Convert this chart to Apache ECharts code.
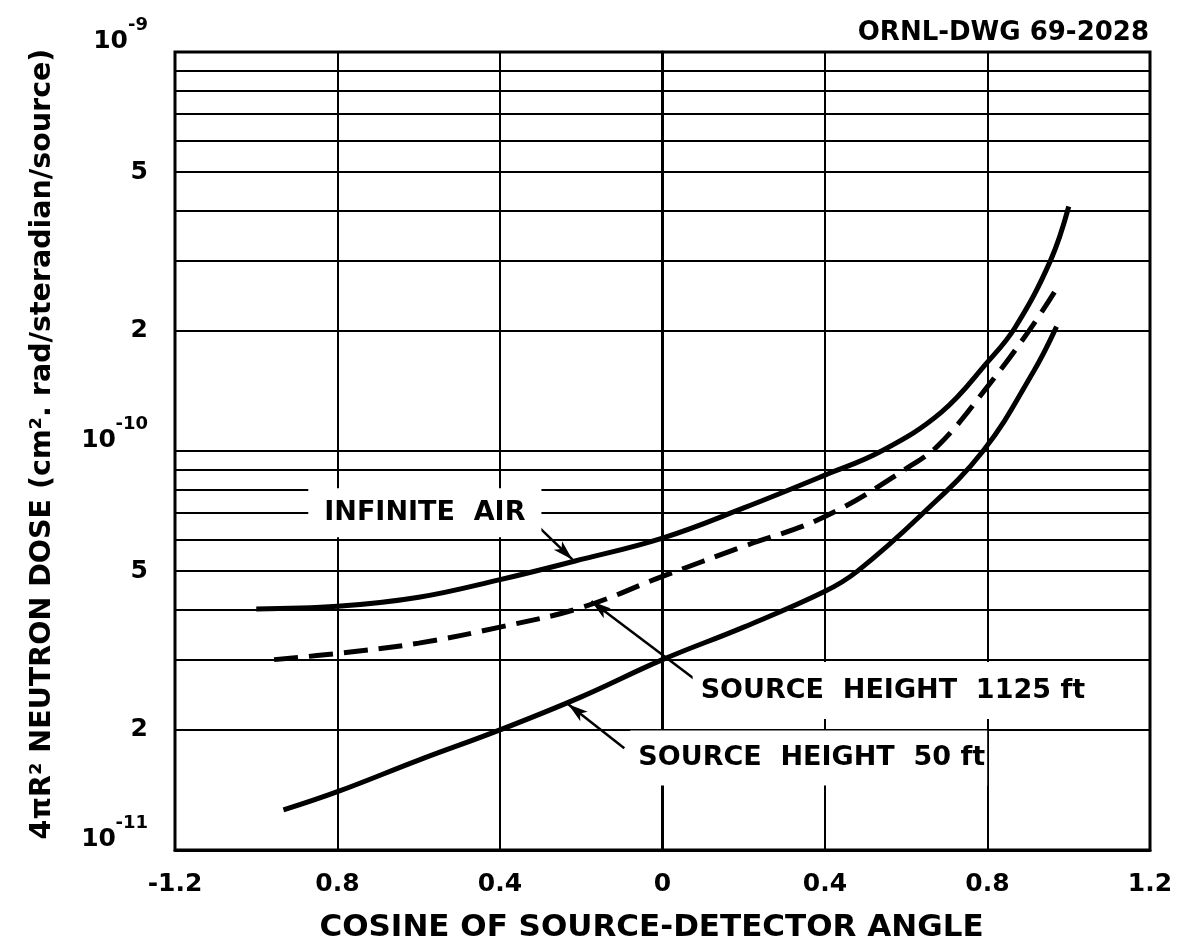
<!DOCTYPE html>
<html>
<head>
<meta charset="utf-8">
<title>Neutron dose vs cosine of source-detector angle</title>
<script src="https://cdn.jsdelivr.net/npm/echarts@6/dist/echarts.min.js"></script>
<style>
  html, body { margin: 0; padding: 0; background: #ffffff; }
  #chart { width: 1183px; height: 951px; }
</style>
</head>
<body>
<div id="chart"></div>
<script>
// Curve samples: cosine of source-detector angle vs 4πR² neutron dose
const infiniteAirX = [-1.0, -0.8, -0.6, -0.4, -0.215, 0.0, 0.2, 0.4, 0.539, 0.686, 0.8, 0.868, 0.955, 1.0];
const infiniteAirY = [4.02e-11, 4.08e-11, 4.3e-11, 4.76e-11, 5.3e-11, 6.05e-11, 7.2e-11, 8.7e-11, 1.0e-10, 1.25e-10, 1.67e-10, 2.04e-10, 3.0e-10, 4.1e-10];

const height1125X = [-0.956, -0.8, -0.6, -0.4, -0.2, 0.0, 0.2, 0.4, 0.612, 0.686, 0.8, 0.902, 0.972];
const height1125Y = [3.0e-11, 3.11e-11, 3.3e-11, 3.62e-11, 4.05e-11, 4.85e-11, 5.77e-11, 6.85e-11, 9.2e-11, 1.05e-10, 1.45e-10, 2.0e-10, 2.57e-10];

const height50X = [-0.933, -0.8, -0.6, -0.4, -0.2, 0.0, 0.2, 0.4, 0.48, 0.636, 0.789, 0.913, 0.97];
const height50Y = [1.26e-11, 1.4e-11, 1.68e-11, 2.0e-11, 2.42e-11, 3.0e-11, 3.62e-11, 4.45e-11, 5.0e-11, 6.9e-11, 1.0e-10, 1.58e-10, 2.05e-10];

// Axis ticks and labels
const xTickValues = [-1.2, -0.8, -0.4, 0, 0.4, 0.8, 1.2];
const xTickLabels = ['-1.2', '0.8', '0.4', '0', '0.4', '0.8', '1.2'];
const yTickValues = [1e-11, 2e-11, 5e-11, 1e-10, 2e-10, 5e-10, 1e-9];
const yTickLabels = ['10^-11', '2', '5', '10^-10', '2', '5', '10^-9'];
const yGridValues = [2e-11, 3e-11, 4e-11, 5e-11, 6e-11, 7e-11, 8e-11, 9e-11,
                     2e-10, 3e-10, 4e-10, 5e-10, 6e-10, 7e-10, 8e-10, 9e-10];

const X_MIN = -1.2, X_MAX = 1.2;
const FONT = '"DejaVu Sans", Verdana, sans-serif';

function pairs(xs, ys) { return xs.map((x, i) => [x, ys[i]]); }

function xLabel(v) {
  for (let i = 0; i < xTickValues.length; i++) {
    if (Math.abs(v - xTickValues[i]) < 1e-6) return xTickLabels[i];
  }
  return '';
}

// Powers of ten are written as a raised exponent over the "10" base,
// both lifted slightly above their tick.
function yLabel(v) {
  for (let i = 0; i < yTickValues.length; i++) {
    if (Math.abs(Math.log10(v) - Math.log10(yTickValues[i])) < 1e-6) {
      const t = yTickLabels[i];
      if (t.indexOf('^') >= 0) {
        const parts = t.split('^');
        const gap = parts[1].length > 2 ? 'g3' : 'g2';
        return '{s|' + parts[1] + '}\n{b|' + parts[0] + '}{' + gap + '| }\n{e| }';
      }
      return '{n|' + t + '}';
    }
  }
  return '';
}

const leaderStyle = { color: '#000', width: 2.5, type: 'solid' };
const noteText = {
  show: true,
  position: 'inside',
  color: '#000',
  fontFamily: FONT,
  fontWeight: 'bold',
  fontSize: 27,
  backgroundColor: '#ffffff'
};

const chart = echarts.init(document.getElementById('chart'), null, { renderer: 'canvas' });

chart.setOption({
  animation: false,
  backgroundColor: '#ffffff',
  title: {
    text: 'ORNL-DWG 69-2028',
    right: 29,
    top: 15,
    textStyle: { fontFamily: FONT, fontWeight: 'bold', fontSize: 26, color: '#000' }
  },
  grid: {
    left: 175, right: 33, top: 52, bottom: 101,
    show: true, borderColor: '#000', borderWidth: 3, backgroundColor: '#ffffff'
  },
  xAxis: {
    type: 'value',
    min: X_MIN, max: X_MAX, interval: 0.4,
    name: 'COSINE OF SOURCE-DETECTOR ANGLE',
    nameLocation: 'middle',
    nameGap: 62,
    nameTextStyle: { fontFamily: FONT, fontSize: 31, fontWeight: 'bold', color: '#000', padding: [0, 22, 0, 0] },
    axisLine: { show: true, lineStyle: { color: '#000', width: 3 } },
    axisTick: { show: false },
    axisLabel: {
      formatter: xLabel, margin: 22,
      fontFamily: FONT, fontSize: 25, fontWeight: 'bold', color: '#000'
    },
    splitLine: { show: true, lineStyle: { color: '#000', width: 2 } }
  },
  yAxis: {
    type: 'log',
    logBase: 10,
    min: 1e-11, max: 1e-9,
    name: '4πR² NEUTRON DOSE (cm². rad/steradian/source)',
    nameLocation: 'middle',
    nameGap: 118,
    nameTextStyle: { fontFamily: FONT, fontSize: 28.5, fontWeight: 'bold', color: '#000', padding: [0, 0, 0, 14] },
    axisLine: { show: true, lineStyle: { color: '#000', width: 3 } },
    axisTick: { show: false },
    axisLabel: {
      customValues: yTickValues,
      formatter: yLabel,
      margin: 27,
      color: '#000',
      rich: {
        n: { fontFamily: FONT, fontSize: 25, fontWeight: 'bold', color: '#000' },
        s: { fontFamily: FONT, fontSize: 18, fontWeight: 'bold', color: '#000', lineHeight: 8 },
        b: { fontFamily: FONT, fontSize: 25, fontWeight: 'bold', color: '#000', lineHeight: 24 },
        g2: { fontSize: 10, width: 20, lineHeight: 24 },
        g3: { fontSize: 10, width: 32, lineHeight: 24 },
        e: { fontSize: 10, lineHeight: 30 }
      }
    },
    splitLine: { show: true, lineStyle: { color: '#000', width: 2 } }
  },
  series: [
    {
      // intermediate logarithmic grid lines (2..9 of each decade)
      type: 'line',
      data: [[0, 1e-10]],
      symbol: 'none',
      lineStyle: { width: 0 },
      z: 1,
      silent: true,
      markLine: {
        silent: true,
        symbol: ['none', 'none'],
        label: { show: false },
        lineStyle: { color: '#000', width: 2, type: 'solid', opacity: 1 },
        data: yGridValues.map(v => [{ coord: [X_MIN, v] }, { coord: [X_MAX, v] }])
      }
    },
    {
      name: 'INFINITE AIR',
      type: 'line',
      data: pairs(infiniteAirX, infiniteAirY),
      smooth: 0.4,
      symbol: 'none',
      z: 3,
      lineStyle: { color: '#000', width: 5 },
      markLine: {
        silent: true,
        symbol: ['none', 'arrow'],
        symbolSize: [9, 20],
        label: { show: false },
        lineStyle: leaderStyle,
        data: [[{ coord: [-0.328, 6.8e-11] }, { coord: [-0.222, 5.35e-11] }]]
      },
      markPoint: {
        silent: true,
        symbol: 'circle',
        symbolSize: 0,
        label: Object.assign({}, noteText, { padding: [4, 16, 18, 16] }),
        data: [{ coord: [-0.585, 7.0e-11], value: 'INFINITE  AIR' }]
      }
    },
    {
      name: 'SOURCE HEIGHT 1125 ft',
      type: 'line',
      data: pairs(height1125X, height1125Y),
      smooth: 0.4,
      symbol: 'none',
      z: 3,
      lineStyle: { color: '#000', width: 5, type: [24, 11] },
      markLine: {
        silent: true,
        symbol: ['none', 'arrow'],
        symbolSize: [9, 20],
        label: { show: false },
        lineStyle: leaderStyle,
        data: [[{ coord: [0.077, 2.69e-11] }, { coord: [-0.175, 4.2e-11] }]]
      },
      markPoint: {
        silent: true,
        symbol: 'circle',
        symbolSize: 0,
        label: Object.assign({}, noteText, { padding: [18, 8, 12, 8] }),
        data: [{ coord: [0.567, 2.51e-11], value: 'SOURCE  HEIGHT  1125 ft' }]
      }
    },
    {
      name: 'SOURCE HEIGHT 50 ft',
      type: 'line',
      data: pairs(height50X, height50Y),
      smooth: 0.4,
      symbol: 'none',
      z: 3,
      lineStyle: { color: '#000', width: 5 },
      markLine: {
        silent: true,
        symbol: ['none', 'arrow'],
        symbolSize: [9, 20],
        label: { show: false },
        lineStyle: leaderStyle,
        data: [[{ coord: [-0.094, 1.8e-11] }, { coord: [-0.232, 2.32e-11] }]]
      },
      markPoint: {
        silent: true,
        symbol: 'circle',
        symbolSize: 0,
        label: Object.assign({}, noteText, { padding: [14, 2, 14, 8] }),
        data: [{ coord: [0.360, 1.70e-11], value: 'SOURCE  HEIGHT  50 ft' }]
      }
    }
  ]
});
</script>
</body>
</html>
